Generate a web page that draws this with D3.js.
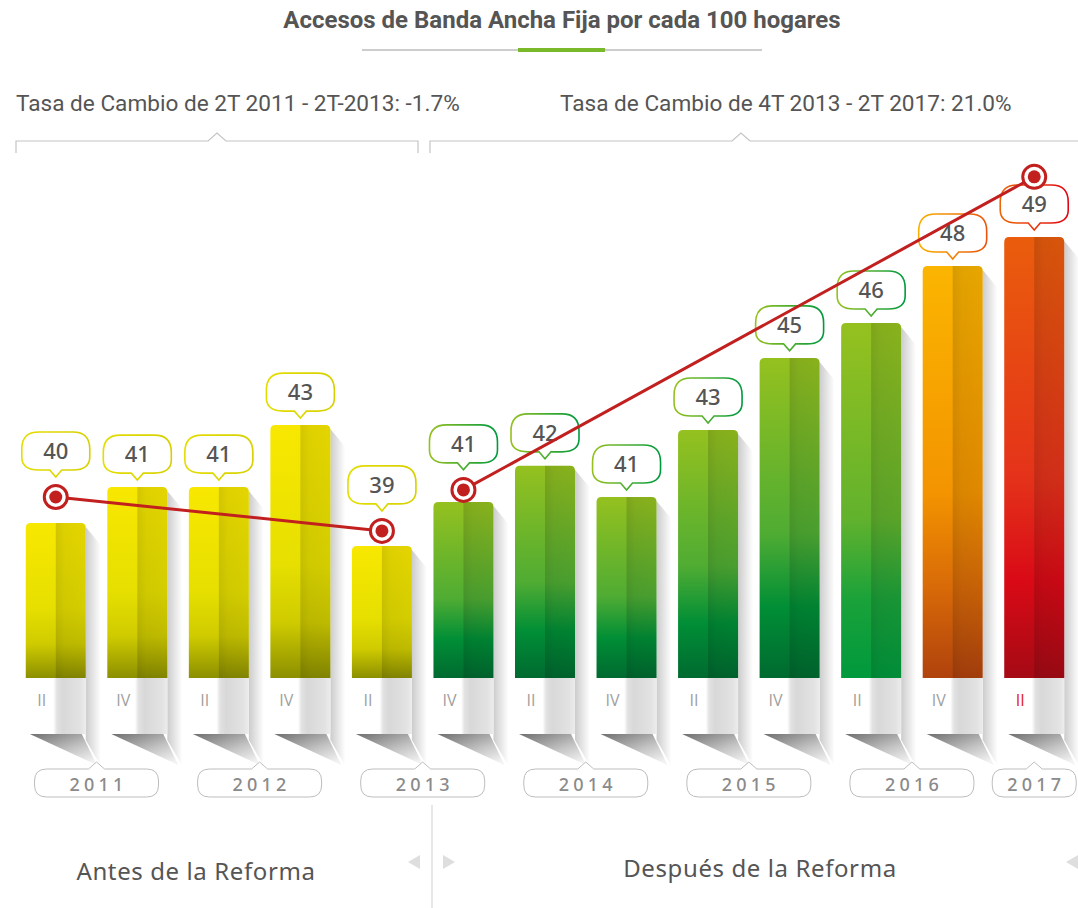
<!DOCTYPE html>
<html>
<head>
<meta charset="utf-8">
<title>Accesos de Banda Ancha Fija</title>
<script src="https://d3js.org/d3.v7.min.js"></script>
<style>
  body { margin: 0; background: #fff; }
  svg { display: block; }
  .din { font-family: Roboto, "Liberation Sans", sans-serif; }
  .geo { font-family: "Noto Sans", Lato, sans-serif; }
</style>
</head>
<body>
<svg id="chart" width="1078" height="908"></svg>
<script>
// data
const periods = ["II", "IV", "II", "IV", "II", "IV", "II", "IV", "II", "IV", "II", "IV", "II"];
const years   = [2011, 2011, 2012, 2012, 2013, 2013, 2014, 2014, 2015, 2015, 2016, 2016, 2017];
const values  = [39.73, 40.89, 40.89, 42.90, 38.98, 40.41, 41.58, 40.57, 42.74, 45.08, 46.21, 48.06, 49.0];
const labels  = [40, 41, 41, 43, 39, 41, 42, 41, 43, 45, 46, 48, 49];
const trendBeforeIdx  = [0, 4];
const trendBeforeVals = [40.57, 39.47];
const trendAfterIdx   = [5, 12];
const trendAfterVals  = [40.80, 50.95];
const title = "Accesos de Banda Ancha Fija por cada 100 hogares";
const rateLabels = ["Tasa de Cambio de 2T 2011 - 2T-2013: -1.7%", "Tasa de Cambio de 4T 2013 - 2T 2017: 21.0%"];
const eraLabels = ["Antes de la Reforma", "Después de la Reforma"];

// colour per bar (style only)
const palettes = {
  yellow: ["#f8e800", "#e6df00", "#cfcb00", "#8c8f00"],
  green:  ["#95c11f", "#4fac33", "#008e36", "#006a30"],
  green2: ["#95c11f", "#62b22d", "#1aa23a", "#00993d"],
  orange: ["#fbb500", "#f39400", "#d86a08", "#b0420d"],
  red:    ["#ea5d0c", "#e4321a", "#d90a16", "#a50a15"]
};
const bubbleStroke = {
  yellow: ["#e4dd00", "#d6d000"],
  green:  ["#95c11f", "#009a3e"],
  green2: ["#95c11f", "#009a3e"],
  orange: ["#f9b000", "#e9540d"],
  red:    ["#ec6608", "#e30613"]
};
const barPal = ["yellow", "yellow", "yellow", "yellow", "yellow", "green", "green", "green", "green", "green", "green2", "orange", "red"];

const svg = d3.select("#chart");
const W = 1078;
const base = 678;

const x = d3.scaleBand(d3.range(values.length), [15, 1075]).paddingInner(0.264).paddingOuter(0.132);
const y = d3.scaleLinear([34.7, 49], [base, 237]);
const bw = x.bandwidth();
const cx = i => x(i) + bw / 2;

const defs = svg.append("defs");
Object.entries(palettes).forEach(([k, c]) => {
  const g = defs.append("linearGradient").attr("id", "bar-" + k).attr("x1", 0).attr("y1", 0).attr("x2", 0).attr("y2", 1);
  [0, 0.55, 0.78, 1].forEach((o, j) => g.append("stop").attr("offset", o).attr("stop-color", c[j]));
  const s = defs.append("linearGradient").attr("id", "bub-" + k);
  s.append("stop").attr("offset", 0).attr("stop-color", bubbleStroke[k][0]);
  s.append("stop").attr("offset", 1).attr("stop-color", bubbleStroke[k][1]);
});
const dark = defs.append("linearGradient").attr("id", "darkhalf");
dark.append("stop").attr("offset", 0).attr("stop-color", "#000").attr("stop-opacity", 0.15);
dark.append("stop").attr("offset", 0.3).attr("stop-color", "#000").attr("stop-opacity", 0.1);
dark.append("stop").attr("offset", 1).attr("stop-color", "#000").attr("stop-opacity", 0.08);
const shadow = defs.append("linearGradient").attr("id", "shadow");
shadow.append("stop").attr("offset", 0).attr("stop-color", "#000").attr("stop-opacity", 0.2);
shadow.append("stop").attr("offset", 1).attr("stop-color", "#000").attr("stop-opacity", 0);
const ribbon = defs.append("linearGradient").attr("id", "ribbon");
[[0, "#ffffff"], [0.46, "#ffffff"], [0.52, "#e2e2e2"], [0.62, "#d8d8d8"], [0.9, "#e2e2e2"], [1, "#ececec"]]
  .forEach(s => ribbon.append("stop").attr("offset", s[0]).attr("stop-color", s[1]));
const fold = defs.append("linearGradient").attr("id", "fold").attr("x1", 0).attr("y1", 0).attr("x2", 0.8).attr("y2", 1);
fold.append("stop").attr("offset", 0).attr("stop-color", "#6f6f6f");
fold.append("stop").attr("offset", 0.6).attr("stop-color", "#c4c4c4");
fold.append("stop").attr("offset", 1).attr("stop-color", "#f2f2f2");

// title
svg.append("text").attr("class", "din").attr("x", 562).attr("y", 28)
  .attr("text-anchor", "middle").attr("font-size", 24).attr("font-weight", 700)
  .attr("fill", "#555").text(title);
svg.append("line").attr("x1", 362).attr("x2", 762).attr("y1", 50).attr("y2", 50)
  .attr("stroke", "#bdbdbd").attr("stroke-width", 1.5);
svg.append("line").attr("x1", 518).attr("x2", 605).attr("y1", 50).attr("y2", 50)
  .attr("stroke", "#7ab929").attr("stroke-width", 4);

// rate labels and brackets
const brackets = [
  {label: rateLabels[0], tx: 16, x0: 16, x1: 418, notch: 217, right: true},
  {label: rateLabels[1], tx: 560, x0: 430, x1: W + 2, notch: 741, right: false}
];
brackets.forEach(b => {
  svg.append("text").attr("class", "din").attr("x", b.tx).attr("y", 111)
    .attr("font-size", 22.6).attr("fill", "#555").text(b.label);
  const p = d3.path();
  p.moveTo(b.x0, 153); p.lineTo(b.x0, 141);
  p.lineTo(b.notch - 9, 141); p.lineTo(b.notch, 133); p.lineTo(b.notch + 9, 141);
  p.lineTo(b.x1, 141);
  if (b.right) p.lineTo(b.x1, 153);
  svg.append("path").attr("d", p.toString()).attr("fill", "none")
    .attr("stroke", "#c4c4c4").attr("stroke-width", 1.2);
});

// bar shadows and ribbons
const g = svg.append("g");
values.forEach((v, i) => {
  const l = x(i), r = l + bw, t = y(v);
  g.append("path")
    .attr("d", `M${r},${t + 4}L${r + 15},${t + 22}L${r + 15},766L${r},740Z`)
    .attr("fill", "url(#shadow)");
  g.append("rect").attr("x", l).attr("y", base).attr("width", bw).attr("height", 56)
    .attr("fill", "url(#ribbon)");
  g.append("path").attr("d", `M${l + 4},734L${r - 4},734L${r + 11},765Z`).attr("fill", "url(#fold)");
});

// bars
values.forEach((v, i) => {
  const l = x(i), r = l + bw, t = y(v), rr = 5;
  const d = `M${l},${base}L${l},${t + rr}Q${l},${t} ${l + rr},${t}L${r - rr},${t}Q${r},${t} ${r},${t + rr}L${r},${base}Z`;
  g.append("path").attr("d", d).attr("fill", `url(#bar-${barPal[i]})`);
  const m = l + bw * 0.5;
  g.append("path")
    .attr("d", `M${m},${base}L${m},${t}L${r - rr},${t}Q${r},${t} ${r},${t + rr}L${r},${base}Z`)
    .attr("fill", "url(#darkhalf)");
  g.append("text").attr("x", l + 16).attr("y", 706)
    .attr("font-family", "'Open Sans', 'Noto Sans', sans-serif")
    .attr("text-anchor", "middle").attr("font-size", 16)
    .attr("fill", i === values.length - 1 ? "#e2231a" : "#9e9e9e").text(periods[i]);
});

// year boxes
const yearGroups = d3.groups(d3.range(values.length), i => years[i]);
yearGroups.forEach(([yr, idx]) => {
  const c = d3.mean(idx, cx);
  const w = idx.length > 1 ? 124 : 84;
  const top = 769, h = 28, rr = 12, l = c - w / 2, r = c + w / 2;
  const p = `M${l + rr},${top}L${c - 8},${top}L${c},${top - 7}L${c + 8},${top}L${r - rr},${top}` +
    `Q${r},${top} ${r},${top + rr}L${r},${top + h - rr}Q${r},${top + h} ${r - rr},${top + h}` +
    `L${l + rr},${top + h}Q${l},${top + h} ${l},${top + h - rr}L${l},${top + rr}Q${l},${top} ${l + rr},${top}Z`;
  svg.append("path").attr("d", p).attr("fill", "#fff").attr("stroke", "#bdbdbd").attr("stroke-width", 1);
  svg.append("text").attr("class", "geo").attr("x", c + 2).attr("y", 791)
    .attr("text-anchor", "middle").attr("font-size", 18).attr("font-weight", 500).attr("letter-spacing", 4.2)
    .attr("fill", "#8a8a8a").text(yr);
});

// trend markers positions
const trends = [
  trendBeforeIdx.map((i, k) => [cx(i), y(trendBeforeVals[k])]),
  trendAfterIdx.map((i, k) => [cx(i), y(trendAfterVals[k])])
];
const markerAt = {};
trends.flat().forEach((pt, k) => {
  const i = [...trendBeforeIdx, ...trendAfterIdx][k];
  markerAt[i] = pt[1];
});

// bubbles
values.forEach((v, i) => {
  const c = cx(i);
  let obstacle = y(v);
  if (markerAt[i] !== undefined && markerAt[i] > y(v) - 45) obstacle = markerAt[i] - 13;
  const tip = obstacle - 7, bottom = tip - 7, top = bottom - 38, l = c - 34, r = c + 34, rr = 17;
  const p = `M${l + rr},${top}L${r - rr},${top}Q${r},${top} ${r},${top + rr}L${r},${bottom - rr + 4}` +
    `Q${r},${bottom} ${r - rr},${bottom}L${c + 6},${bottom}L${c},${tip}L${c - 6},${bottom}L${l + rr},${bottom}` +
    `Q${l},${bottom} ${l},${bottom - rr + 4}L${l},${top + rr}Q${l},${top} ${l + rr},${top}Z`;
  svg.append("path").attr("d", p).attr("fill", "#fff")
    .attr("stroke", `url(#bub-${barPal[i]})`).attr("stroke-width", 1.6);
  svg.append("text").attr("class", "geo").attr("x", c).attr("y", top + 27)
    .attr("text-anchor", "middle").attr("font-size", 22).attr("font-weight", 500)
    .attr("fill", "#555").text(labels[i]);
});

// trend lines
const line = d3.line();
trends.forEach(t => {
  svg.append("path").attr("d", line(t)).attr("fill", "none")
    .attr("stroke", "#c1201f").attr("stroke-width", 3);
  t.forEach(pt => {
    svg.append("circle").attr("cx", pt[0]).attr("cy", pt[1]).attr("r", 11.5)
      .attr("fill", "#fff").attr("stroke", "#c1201f").attr("stroke-width", 3);
    svg.append("circle").attr("cx", pt[0]).attr("cy", pt[1]).attr("r", 6.5).attr("fill", "#c1201f");
  });
});

// bottom eras
svg.append("line").attr("x1", 432).attr("x2", 432).attr("y1", 805).attr("y2", 908)
  .attr("stroke", "#cfcfcf").attr("stroke-width", 1);
svg.append("text").attr("class", "geo").attr("x", 196).attr("y", 880)
  .attr("text-anchor", "middle").attr("font-size", 24).attr("letter-spacing", 0.6)
  .attr("fill", "#555").text(eraLabels[0]);
svg.append("text").attr("class", "geo").attr("x", 760).attr("y", 877)
  .attr("text-anchor", "middle").attr("font-size", 24).attr("letter-spacing", 0.6)
  .attr("fill", "#555").text(eraLabels[1]);
const tri = (xa, dir) => `M${xa},862L${xa + dir * 12},855L${xa + dir * 12},869Z`;
[[408, 1], [455, -1], [1066, 1]].forEach(([xa, dir]) => {
  svg.append("path").attr("d", tri(xa, dir)).attr("fill", "#dedede");
});
</script>
</body>
</html>
